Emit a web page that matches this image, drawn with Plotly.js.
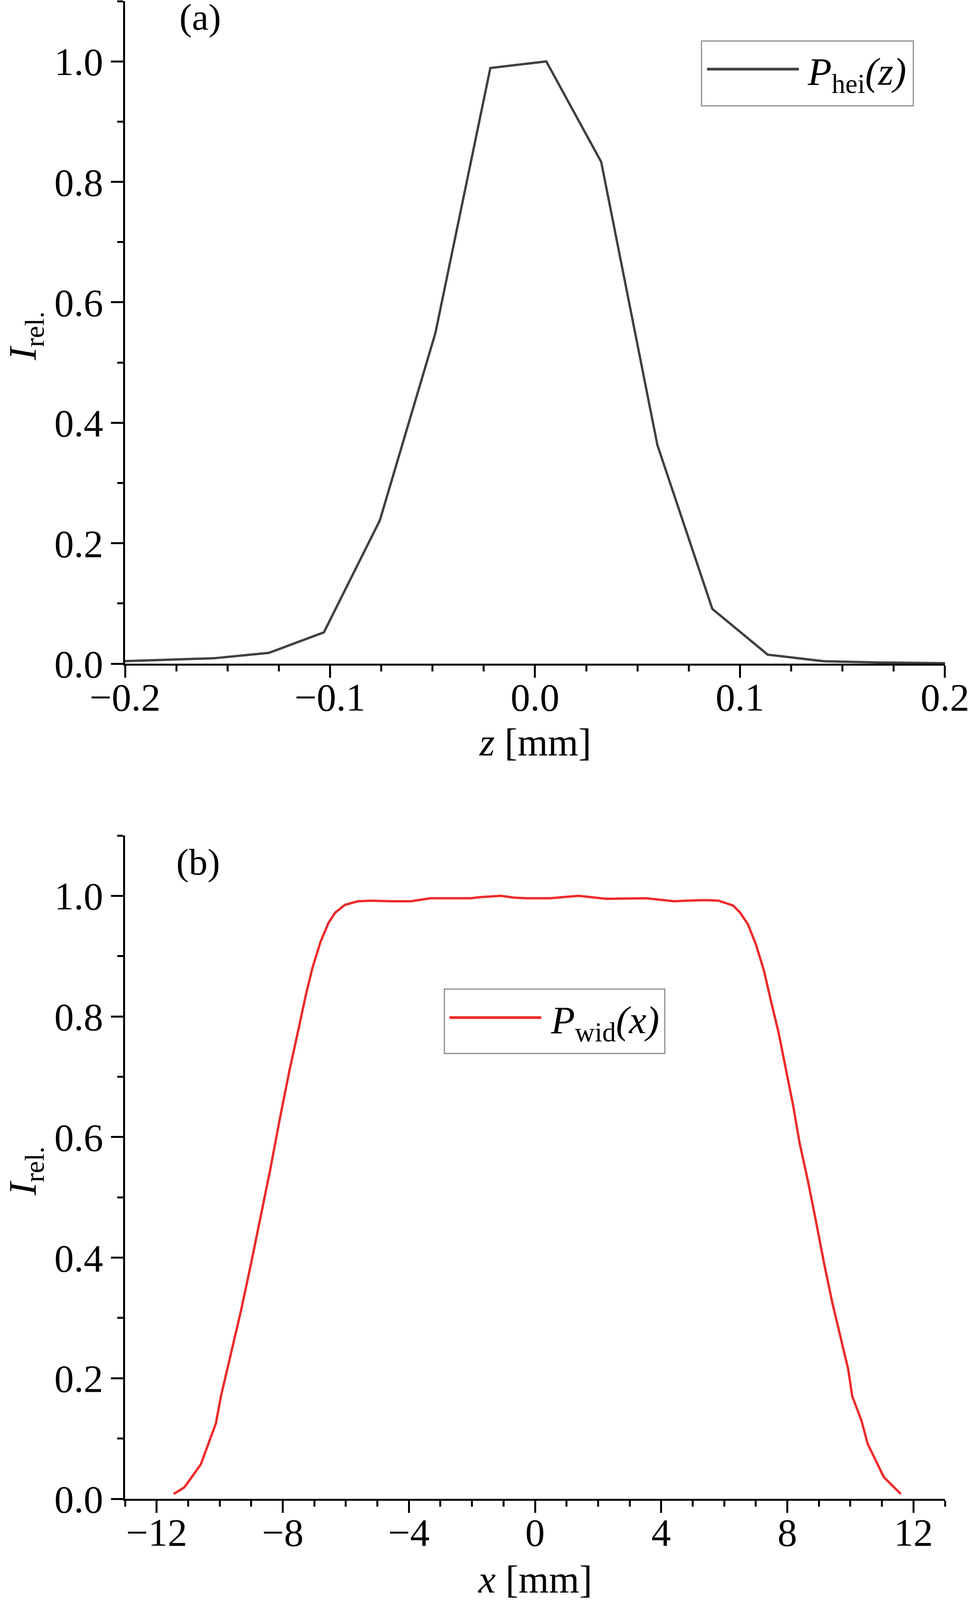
<!DOCTYPE html>
<html>
<head>
<meta charset="utf-8">
<script src="https://cdn.plot.ly/plotly-3.0.1.min.js"></script>
<style>
  html, body { margin: 0; padding: 0; background: #fff; }
  #chart { width: 2482px; height: 4100px; }
</style>
</head>
<body>
<div id="chart"></div>
<script>
// ── Data ─────────────────────────────────────────────────────
// (a) height profile, z in mm
const zHei = [-0.2105, -0.1836, -0.1566, -0.1298, -0.1030, -0.0757, -0.0486, -0.0218,
              0.0055, 0.0323, 0.0597, 0.0865, 0.1135, 0.1409, 0.1677, 0.1946, 0.2215];
const pHei = [0.003, 0.006, 0.009, 0.018, 0.052, 0.238, 0.549, 0.989,
              1.000, 0.833, 0.363, 0.091, 0.015, 0.004, 0.002, 0.001, 0.000];

// (b) width profile, x in mm
const xWid = [-11.46, -11.12, -10.60, -10.45, -10.12, -9.96, -9.63, -9.32, -9.01, -8.70,
              -8.40, -8.09, -7.78, -7.52, -7.27, -7.06, -6.80, -6.55, -6.34, -6.03,
              -5.62, -5.21, -4.57, -3.94, -3.31, -2.04, -1.72, -1.09, -0.66, -0.27,
              0.48, 1.38, 2.26, 3.52, 4.41, 4.80, 5.42, 5.82, 6.28, 6.49,
              6.75, 7.00, 7.26, 7.47, 7.72, 7.93, 8.19, 8.39, 8.65, 8.91,
              9.16, 9.42, 9.68, 9.93, 10.06, 10.35, 10.55, 11.06, 11.60];
const pWid = [0.008, 0.019, 0.057, 0.078, 0.125, 0.170, 0.245, 0.313, 0.389, 0.467,
              0.545, 0.631, 0.712, 0.774, 0.835, 0.880, 0.924, 0.955, 0.972, 0.985,
              0.991, 0.992, 0.991, 0.991, 0.996, 0.996, 0.998, 1.000, 0.997, 0.996,
              0.996, 1.000, 0.995, 0.996, 0.991, 0.992, 0.993, 0.992, 0.984, 0.973,
              0.953, 0.920, 0.876, 0.828, 0.774, 0.719, 0.651, 0.590, 0.528, 0.460,
              0.392, 0.327, 0.269, 0.215, 0.170, 0.130, 0.091, 0.036, 0.008];

// ── Style ────────────────────────────────────────────────────
const FONT = 'Liberation Serif, serif';
const FS = 100;
const C = { ink: '#000000', grey: '#404040', red: '#ee2a2a', box: '#8c8c8c' };

// plot frame in page pixels, used to place the hand-drawn legends and labels
const L = 320, R = 2418, T = 3, B = 3837;
const px = X => (X - L) / (R - L);
const py = Y => (B - Y) / (B - T);

const axisBase = {
  showline: true, linecolor: C.ink, linewidth: 5,
  ticks: 'outside', ticklen: 31, tickwidth: 5, tickcolor: C.ink,
  showgrid: false, zeroline: false, mirror: false,
  tickfont: { family: FONT, size: FS, color: C.ink },
};
const minorBase = { ticks: 'outside', ticklen: 15, tickwidth: 5, tickcolor: C.ink, showgrid: false };

const traces = [
  {
    type: 'scatter', mode: 'lines', x: zHei, y: pHei, xaxis: 'x', yaxis: 'y',
    line: { color: C.grey, width: 6 }, name: 'P_hei(z)', showlegend: false,
  },
  {
    type: 'scatter', mode: 'lines', x: xWid, y: pWid, xaxis: 'x2', yaxis: 'y2',
    line: { color: C.red, width: 6 }, name: 'P_wid(x)', showlegend: false,
  },
];

const yCommon = {
  ...axisBase, range: [0, 1.1], dtick: 0.2, tick0: 0, tickformat: '.1f',
  ticklabelstandoff: 0,
  minor: { ...minorBase, dtick: 0.1, tick0: 0 },
};

const layout = {
  width: 2482, height: 4100,
  paper_bgcolor: '#ffffff', plot_bgcolor: '#ffffff',
  margin: { l: L, r: 2482 - R, t: T, b: 4100 - B },
  showlegend: false,
  font: { family: FONT, size: FS, color: C.ink },
  xaxis: {
    ...axisBase, anchor: 'y', range: [-0.2, 0.20001], dtick: 0.1, tick0: 0, tickformat: '.1f',
    ticklabelstandoff: -36,
    minor: { ...minorBase, dtick: 0.025, tick0: 0 },
  },
  yaxis: { ...yCommon, anchor: 'x', domain: [py(1699), 1] },
  xaxis2: {
    ...axisBase, anchor: 'y2', range: [-13, 13], dtick: 4, tick0: -12,
    ticklabelstandoff: -36,
    minor: { ...minorBase, dtick: 1, tick0: -12 },
  },
  yaxis2: { ...yCommon, anchor: 'x2', domain: [0, py(2139)] },
  shapes: [
    // legend (a)
    { type: 'rect', xref: 'paper', yref: 'paper', x0: px(1795), x1: px(2337), y0: py(271), y1: py(105),
      line: { color: C.box, width: 3 }, fillcolor: 'rgba(0,0,0,0)' },
    { type: 'line', xref: 'paper', yref: 'paper', x0: px(1809), x1: px(2044), y0: py(177), y1: py(177),
      line: { color: C.grey, width: 7 } },
    // legend (b)
    { type: 'rect', xref: 'paper', yref: 'paper', x0: px(1137), x1: px(1701), y0: py(2697), y1: py(2532),
      line: { color: C.box, width: 3 }, fillcolor: 'rgba(0,0,0,0)' },
    { type: 'line', xref: 'paper', yref: 'paper', x0: px(1150), x1: px(1385), y0: py(2605), y1: py(2605),
      line: { color: C.red, width: 7 } },
  ],
  annotations: [
    { text: '<i>P</i><sub>hei</sub><i>(z)</i>', xref: 'paper', yref: 'paper',
      x: px(2064), y: py(191), xanchor: 'left', yanchor: 'middle', showarrow: false,
      font: { family: FONT, size: FS, color: C.ink } },
    { text: '<i>P</i><sub>wid</sub><i>(x)</i>', xref: 'paper', yref: 'paper',
      x: px(1407), y: py(2618), xanchor: 'left', yanchor: 'middle', showarrow: false,
      font: { family: FONT, size: FS, color: C.ink } },
    // panel labels
    { text: '(a)', xref: 'paper', yref: 'paper', x: px(512), y: py(44),
      xanchor: 'center', yanchor: 'middle', showarrow: false, font: { family: FONT, size: 96, color: C.ink } },
    { text: '(b)', xref: 'paper', yref: 'paper', x: px(507), y: py(2206),
      xanchor: 'center', yanchor: 'middle', showarrow: false, font: { family: FONT, size: 96, color: C.ink } },
    // axis titles
    { text: '<i>z</i> [mm]', xref: 'paper', yref: 'paper', x: px(1369), y: py(1900),
      xanchor: 'center', yanchor: 'middle', showarrow: false, font: { family: FONT, size: FS, color: C.ink } },
    { text: '<i>x</i> [mm]', xref: 'paper', yref: 'paper', x: px(1369), y: py(4043),
      xanchor: 'center', yanchor: 'middle', showarrow: false, font: { family: FONT, size: FS, color: C.ink } },
    { text: '<i>I</i><sub>rel.</sub>', xref: 'paper', yref: 'paper', x: px(64), y: py(860),
      xanchor: 'center', yanchor: 'middle', textangle: -90, showarrow: false,
      font: { family: FONT, size: FS, color: C.ink } },
    { text: '<i>I</i><sub>rel.</sub>', xref: 'paper', yref: 'paper', x: px(64), y: py(2998),
      xanchor: 'center', yanchor: 'middle', textangle: -90, showarrow: false,
      font: { family: FONT, size: FS, color: C.ink } },
  ],
};

Plotly.newPlot('chart', traces, layout, { displayModeBar: false, staticPlot: true });
</script>
</body>
</html>
